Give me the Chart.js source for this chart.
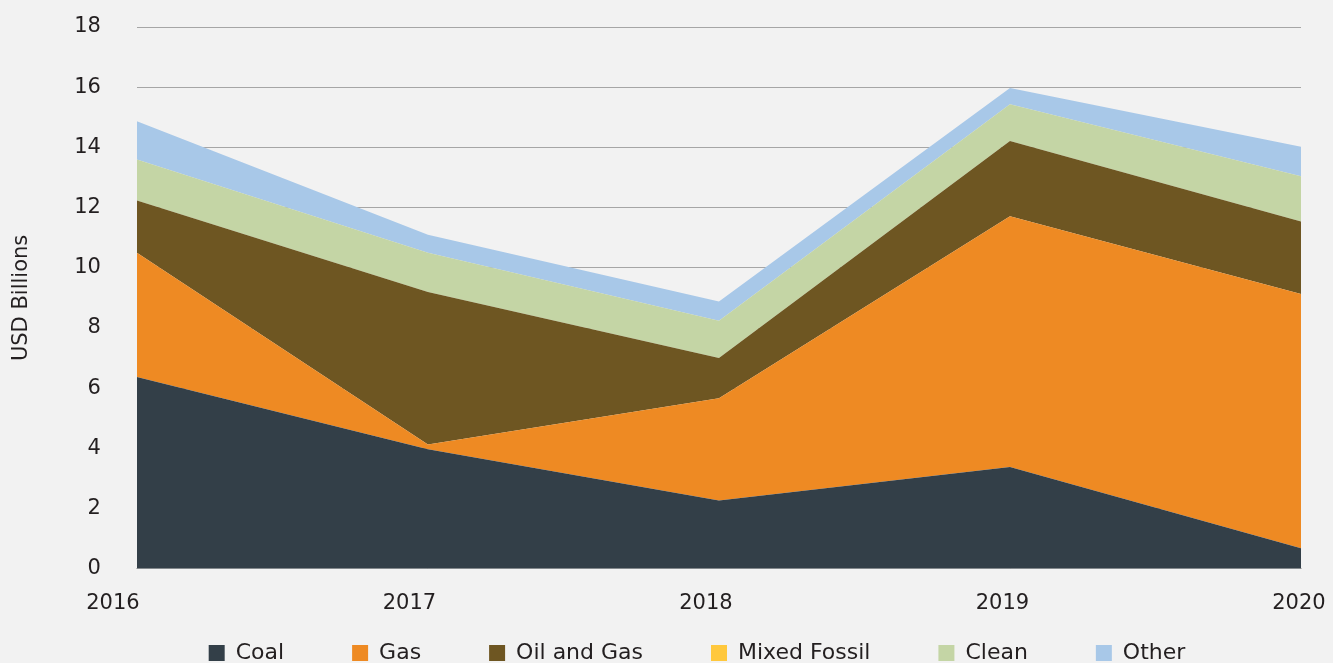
<!DOCTYPE html>
<html>
<head>
<meta charset="utf-8">
<script src="https://cdn.jsdelivr.net/npm/chart.js@4"></script>
<style>
  html, body { margin: 0; padding: 0; background: #f2f2f2; }
  #wrap { width: 1333px; height: 663px; }
</style>
</head>
<body>
<div id="wrap"><canvas id="myChart"></canvas></div>
<script>
// data (USD billions)
const years = [2016, 2017, 2018, 2019, 2020];
const coal = [6.37, 3.97, 2.27, 3.38, 0.68];
const gas = [4.13, 0.16, 3.40, 8.33, 8.45];
const oilAndGas = [1.74, 5.07, 1.33, 2.50, 2.41];
const mixedFossil = [0, 0, 0, 0, 0];
const clean = [1.36, 1.30, 1.24, 1.22, 1.50];
const other = [1.27, 0.60, 0.64, 0.54, 0.98];
const yTicks = [0, 2, 4, 6, 8, 10, 12, 14, 16, 18];

const fontFamily = '"DejaVu Sans", sans-serif';
const textColor = '#231f20';

function area(label, data, color, fill) {
    return {
        label: label,
        data: data,
        backgroundColor: color,
        borderColor: color,
        borderWidth: 0,
        pointRadius: 0,
        pointHoverRadius: 0,
        fill: fill,
        tension: 0,
    };
}

const bgPlugin = {
    id: 'bg',
    beforeDraw(chart) {
        const c = chart.ctx;
        c.save();
        c.fillStyle = '#f2f2f2';
        c.fillRect(0, 0, chart.width, chart.height);
        c.restore();
    }
};

// nudge the legend row to where the original sits
const legendShift = {
    id: 'legendShift',
    afterLayout(chart) {
        const lg = chart.legend;
        if (!lg) return;
        const dx = 42, dy = -64;
        lg.left += dx; lg.right += dx;
        lg.top += dy; lg.bottom += dy;
    }
};

const ctx = document.getElementById('myChart').getContext('2d');
const myChart = new Chart(ctx, {
    type: 'line',
    data: {
        labels: years.map(String),
        datasets: [
            area('Coal', coal, '#333f48', 'origin'),
            area('Gas', gas, '#ee8a23', '-1'),
            area('Oil and Gas', oilAndGas, '#6e5622', '-1'),
            area('Mixed Fossil', mixedFossil, '#ffc83d', '-1'),
            area('Clean', clean, '#c4d5a5', '-1'),
            area('Other', other, '#a8c8e8', '-1'),
        ],
    },
    options: {
        responsive: true,
        maintainAspectRatio: false,
        animation: false,
        layout: { padding: { top: 27, right: 32, left: 9, bottom: -75 } },
        plugins: {
            legend: {
                position: 'bottom',
                labels: {
                    boxWidth: 16,
                    boxHeight: 16,
                    padding: 68,
                    color: textColor,
                    font: { family: fontFamily, size: 22 },
                },
            },
            tooltip: { enabled: false },
        },
        scales: {
            x: {
                display: false,
                offset: false,
            },
            xl: {
                type: 'linear',
                position: 'bottom',
                min: 2016.081,
                max: 2020.007,
                afterBuildTicks: function(axis) {
                    axis.ticks = years.map(v => ({ value: v }));
                },
                afterFit: function(axis) {
                    axis.paddingLeft = 0;
                    axis.paddingRight = 0;
                },
                grid: { display: false, drawTicks: false },
                border: { display: true, color: '#bfbfbf', width: 1 },
                ticks: {
                    autoSkip: false,
                    maxRotation: 0,
                    padding: 22,
                    color: textColor,
                    font: { family: fontFamily, size: 21 },
                    callback: v => String(v),
                },
            },
            y: {
                stacked: true,
                min: 0,
                max: 18,
                afterBuildTicks: function(axis) {
                    axis.ticks = yTicks.map(v => ({ value: v }));
                },
                afterFit: function(axis) {
                    axis.paddingTop = 0;
                    axis.paddingBottom = 0;
                },
                grid: { color: '#a6a6a6', lineWidth: 1, drawTicks: false },
                border: { display: false },
                ticks: {
                    padding: 36,
                    color: textColor,
                    font: { family: fontFamily, size: 21 },
                },
                title: {
                    display: true,
                    text: 'USD Billions',
                    color: textColor,
                    font: { family: fontFamily, size: 21 },
                    padding: { top: 0, bottom: 4 },
                },
            },
        },
    },
    plugins: [bgPlugin, legendShift],
});
</script>
</body>
</html>
